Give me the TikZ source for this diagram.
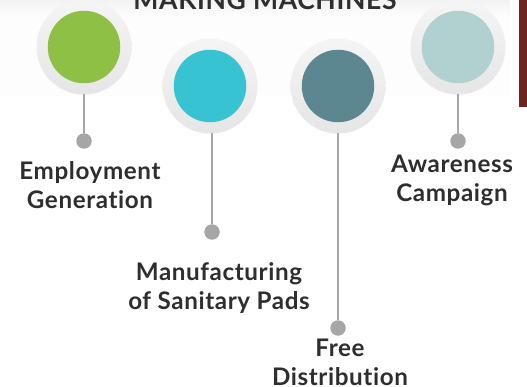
\documentclass[tikz,border=0pt]{standalone}
\usepackage{fontspec}
\setmainfont{Lato}[Ligatures=NoCommon,LetterSpace=2.5]
\usetikzlibrary{shadings}
\definecolor{stem}{HTML}{A6A6A6}
\definecolor{ink}{HTML}{2E2E2E}
\definecolor{cgreen}{HTML}{8DC044}
\definecolor{ccyan}{HTML}{38C3D3}
\definecolor{cteal}{HTML}{5D8790}
\definecolor{clight}{HTML}{B1D0D0}
\definecolor{cred}{HTML}{6E2320}
\tikzset{
  x=1pt,y=-1pt,
  ring/.style={circle,minimum size=95pt,inner sep=0pt,top color=black!4,bottom color=black!10},
  disc/.style={circle,minimum size=72.5pt,inner sep=0pt},
  dotend/.style={circle,fill=stem,minimum size=15.5pt,inner sep=0pt},
  stemline/.style={draw=stem,line width=2.6pt},
  lab/.style={text=ink,align=center,font=\fontsize{24.2}{29}\selectfont\bfseries,inner sep=0pt}
}
\begin{document}
\begin{tikzpicture}
\useasboundingbox (0,0) rectangle (527,387);
\fill[white] (0,0) rectangle (527,387);
\fill[black!0.8] (0,14) rectangle (510,96);
\shade[top color=black!5,bottom color=black!0.8] (0,0) rectangle (510,16);
\fill[cred] (519,0) rectangle (527,107);
\begin{scope}
\clip (0,0) rectangle (527,387);
\node[lab,anchor=base,font=\fontsize{26.5}{29}\selectfont\bfseries] (title) at (265,10) {MAKING MACHINES};
\end{scope}
\node[ring] (r1) at (84,47) {};
\node[ring] (r2) at (210,86) {};
\node[ring] (r3) at (338,86) {};
\node[ring] (r4) at (458,47) {};
\node[disc,fill=cgreen] (d1) at (84,47) {};
\node[disc,fill=ccyan] (d2) at (210,86) {};
\node[disc,fill=cteal] (d3) at (338,86) {};
\node[disc,fill=clight] (d4) at (458,47) {};
\node[dotend] (e1) at (84,141) {};
\node[dotend] (e2) at (212,232) {};
\node[dotend] (e3) at (338,328) {};
\node[dotend] (e4) at (458,141) {};
\draw[stemline] (84,94) -- (e1);
\draw[stemline] (212,133) -- (e2);
\draw[stemline] (338,133) -- (e3);
\draw[stemline] (458,94) -- (e4);
\node[lab] (t1) at (90,185) {Employment\\Generation};
\node[lab] (t2) at (219,288) {Manufacturing\\of Sanitary Pads};
\node[lab] (t3) at (340,362) {Free\\Distribution};
\node[lab] (t4) at (452,180) {Awareness\\Campaign};
\end{tikzpicture}
\end{document}
